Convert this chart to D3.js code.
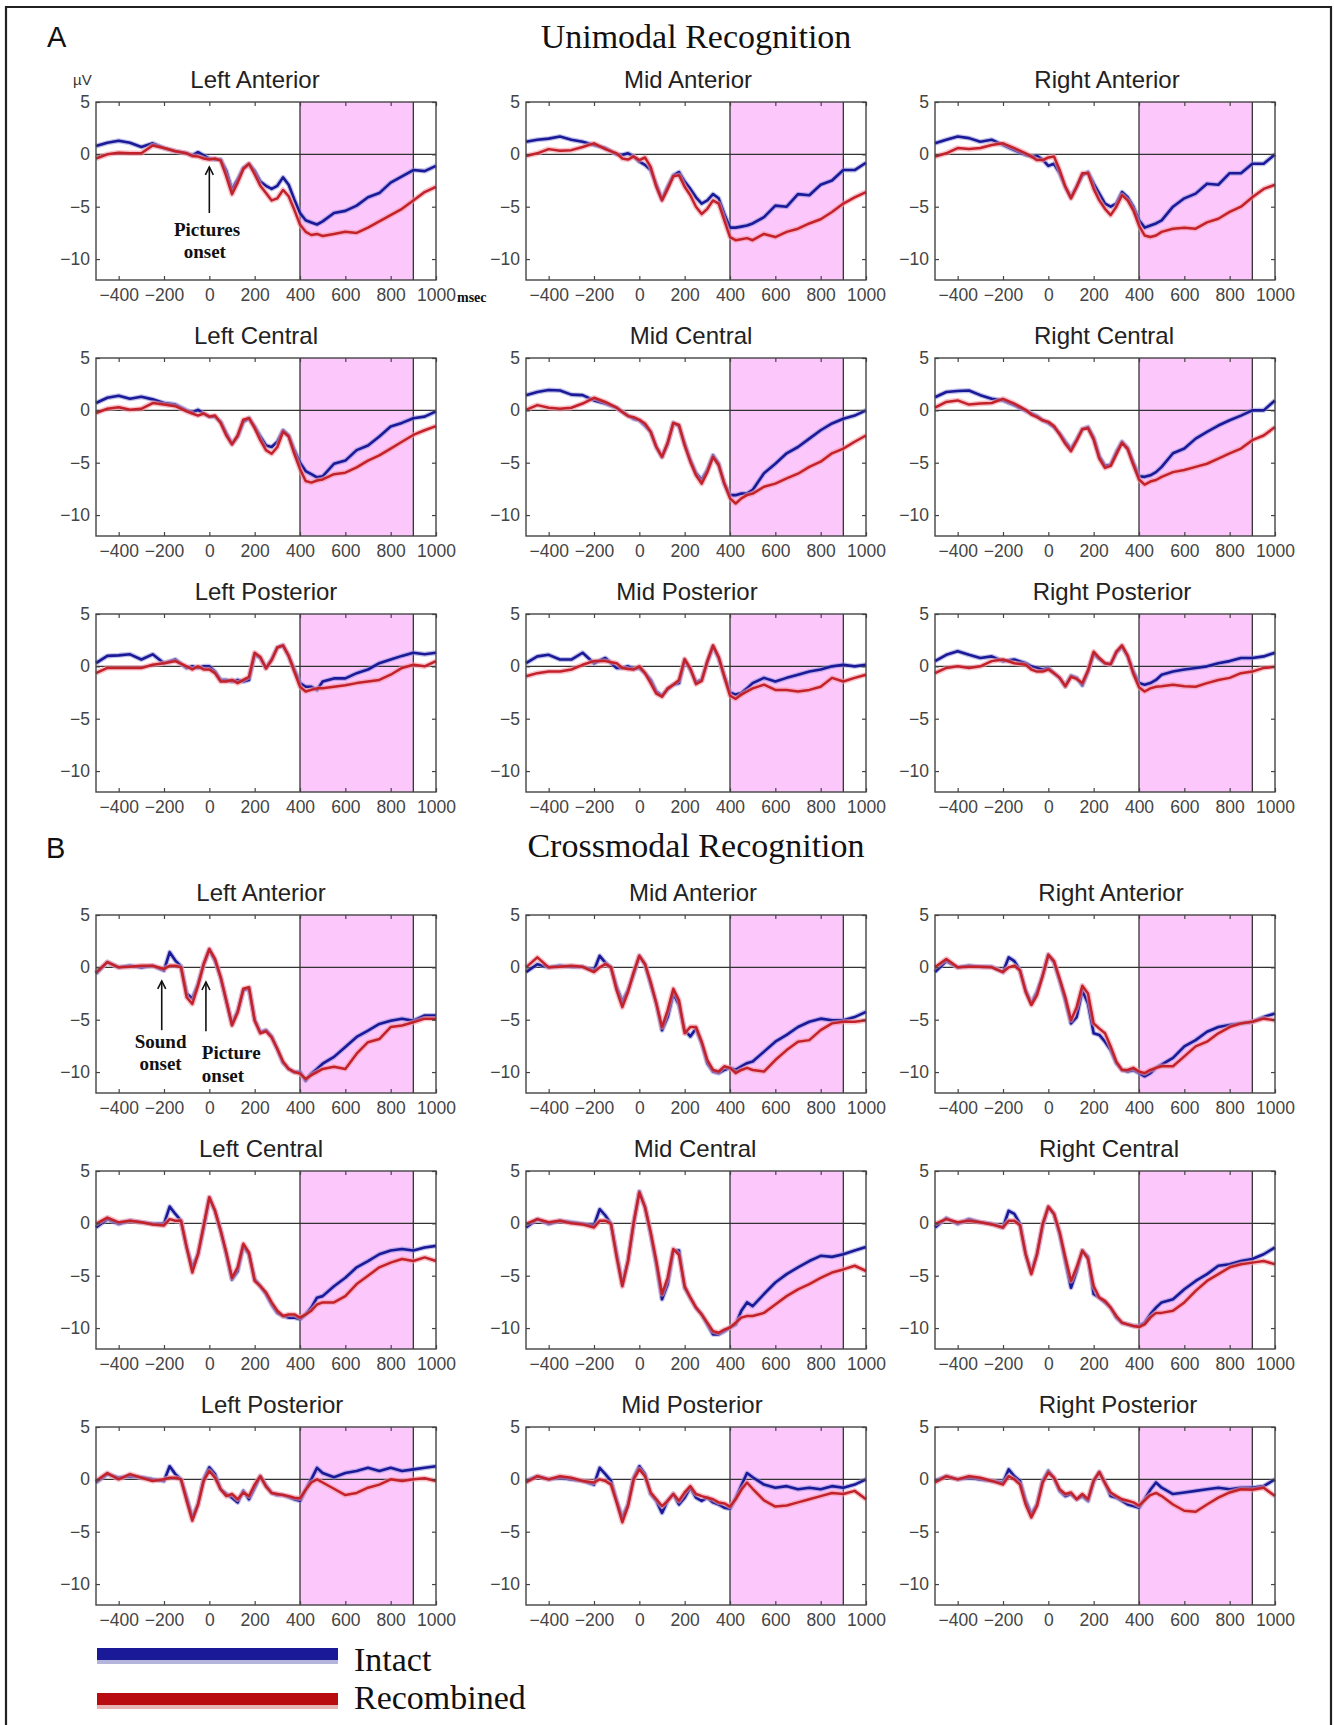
<!DOCTYPE html>
<html>
<head>
<meta charset="utf-8">
<title>Unimodal and Crossmodal Recognition ERPs</title>
<script src="https://cdn.jsdelivr.net/npm/d3@7"></script>
<style>
  body { margin: 0; background: #fff; }
  .tick text { font-family: "Liberation Sans Narrow", "Arial Narrow", "Liberation Sans", Arial, sans-serif; font-size: 17.5px; fill: #444; }
  .tick line { stroke: #444; stroke-width: 1.2; }
  .ptitle { font-family: "Liberation Sans", Arial, sans-serif; font-size: 24px; fill: #222; text-anchor: middle; }
  .serif { font-family: "Liberation Serif", "Times New Roman", serif; fill: #111; }
</style>
</head>
<body>
<svg id="chart"></svg>
<script>
var timesA = [-500,-450,-400,-350,-300,-250,-200,-150,-100,-75,-50,-25,0,25,50,75,100,125,150,175,200,225,250,275,300,325,350,375,400,425,450,475,500,550,600,650,700,750,800,850,900,950,1000];
var timesB = [-500,-450,-400,-350,-300,-250,-200,-175,-150,-125,-100,-75,-50,-25,0,25,50,75,100,125,150,175,200,225,250,275,300,325,350,375,400,425,450,475,500,550,600,650,700,750,800,850,900,950,1000];

var xTicks = [-400, -200, 0, 200, 400, 600, 800, 1000];
var yTicks = [5, 0, -5, -10];
var windowMs = [400, 900];

var regions = [['Left Anterior', 'Mid Anterior', 'Right Anterior'],
               ['Left Central', 'Mid Central', 'Right Central'],
               ['Left Posterior', 'Mid Posterior', 'Right Posterior']];

// A: unimodal recognition (µV)
var uniLAi = [0.8,1.1,1.3,1.1,0.7,1.05,0.6,0.3,0.1,-0.1,0.2,-0.1,-0.4,-0.5,-0.5,-1.6,-3.4,-2.4,-1.3,-0.9,-1.6,-2.6,-3.0,-3.3,-3.0,-2.2,-2.9,-4.3,-5.6,-6.3,-6.5,-6.7,-6.4,-5.6,-5.4,-4.9,-4.1,-3.7,-2.7,-2.1,-1.5,-1.6,-1.1];
var uniLAr = [-0.4,0.0,0.15,0.1,0.1,0.85,0.6,0.3,0.1,-0.15,-0.2,-0.4,-0.5,-0.4,-0.6,-2.1,-3.8,-2.7,-1.4,-0.9,-1.9,-3.0,-3.7,-4.4,-4.2,-3.4,-4.0,-5.3,-6.7,-7.4,-7.7,-7.6,-7.8,-7.6,-7.4,-7.5,-7.0,-6.4,-5.8,-5.2,-4.4,-3.6,-3.1];
var uniMAi = [1.2,1.4,1.5,1.7,1.4,1.2,0.9,0.6,0.0,-0.05,0.1,-0.2,-0.7,-1.0,-1.5,-2.9,-4.3,-3.1,-2.0,-1.7,-2.6,-3.3,-4.1,-4.7,-4.4,-3.8,-4.2,-5.7,-7.0,-7.0,-6.9,-6.8,-6.6,-6.0,-4.9,-5.0,-3.8,-3.9,-2.9,-2.5,-1.5,-1.5,-0.8];
var uniMAr = [-0.15,0.1,0.5,0.35,0.4,0.7,1.05,0.5,0.1,-0.4,-0.5,-0.2,-0.55,-0.3,-1.2,-3.1,-4.4,-3.3,-2.1,-2.0,-3.1,-3.9,-5.0,-5.7,-5.2,-4.4,-4.7,-6.3,-7.9,-8.2,-8.1,-8.0,-8.2,-7.6,-7.9,-7.4,-7.1,-6.6,-6.2,-5.5,-4.7,-4.1,-3.6];
var uniRAi = [1.05,1.4,1.7,1.55,1.2,1.4,0.9,0.4,-0.05,-0.2,-0.15,-0.5,-1.1,-0.9,-1.8,-3.1,-4.1,-3.1,-2.0,-1.7,-2.8,-3.75,-4.7,-5.0,-4.7,-3.6,-4.1,-5.0,-6.3,-7.0,-6.8,-6.6,-6.3,-5.0,-4.2,-3.75,-2.8,-2.9,-1.8,-1.8,-0.9,-0.9,0.0];
var uniRAr = [-0.2,0.1,0.6,0.5,0.6,0.9,1.05,0.6,0.1,-0.2,-0.55,-0.55,-0.3,-0.2,-1.5,-3.1,-4.2,-3.1,-1.8,-1.8,-3.3,-4.4,-5.2,-5.8,-5.0,-3.9,-4.4,-5.35,-6.8,-7.75,-7.9,-7.75,-7.4,-7.1,-7.0,-7.1,-6.5,-6.15,-5.5,-5.0,-4.1,-3.3,-2.9];
var uniLCi = [0.7,1.2,1.4,1.1,1.3,1.05,0.7,0.55,0.0,-0.2,0.05,-0.3,-0.6,-0.6,-1.1,-2.2,-3.2,-2.5,-1.1,-0.75,-1.55,-2.5,-3.35,-3.5,-3.0,-1.9,-2.4,-3.8,-5.0,-5.8,-6.1,-6.4,-6.3,-5.1,-4.8,-3.8,-3.35,-2.5,-1.55,-1.2,-0.75,-0.6,-0.1];
var uniLCr = [-0.25,0.15,0.3,0.05,0.15,0.7,0.55,0.4,-0.1,-0.3,-0.5,-0.3,-0.6,-0.5,-1.2,-2.4,-3.25,-2.4,-0.9,-0.75,-1.7,-2.85,-3.8,-4.15,-3.5,-2.05,-2.5,-4.15,-5.6,-6.75,-6.9,-6.7,-6.6,-6.1,-5.95,-5.45,-4.8,-4.3,-3.65,-3.0,-2.35,-1.9,-1.5];
var uniMCi = [1.45,1.75,1.95,1.9,1.5,1.45,0.95,0.65,0.25,-0.15,-0.5,-0.8,-0.95,-1.45,-2.05,-3.5,-4.45,-3.2,-1.2,-1.5,-3.2,-4.75,-6.0,-6.65,-5.7,-4.3,-5.1,-7.0,-8.1,-8.1,-7.95,-7.95,-7.6,-6.0,-5.1,-4.1,-3.5,-2.7,-1.9,-1.25,-0.8,-0.5,0.0];
var uniMCr = [0.05,0.5,0.25,0.15,0.25,0.65,1.2,0.8,0.25,-0.15,-0.55,-0.65,-0.9,-1.25,-2.05,-3.5,-4.45,-3.1,-1.2,-1.4,-3.35,-4.9,-6.2,-7.0,-5.9,-4.45,-5.25,-7.0,-8.4,-8.9,-8.4,-8.1,-7.95,-7.3,-7.0,-6.5,-6.05,-5.4,-4.9,-4.1,-3.65,-3.0,-2.4];
var uniRCi = [1.25,1.75,1.85,1.9,1.45,1.1,0.95,0.5,-0.05,-0.3,-0.55,-0.95,-1.2,-1.6,-2.2,-3.0,-3.7,-2.8,-1.8,-1.6,-2.6,-4.4,-5.3,-5.2,-4.0,-3.0,-3.6,-5.0,-6.3,-6.35,-6.2,-5.9,-5.4,-4.1,-3.65,-2.7,-2.05,-1.45,-0.95,-0.5,0.0,0.0,0.95];
var uniRCr = [0.25,0.8,0.95,0.55,0.65,0.7,1.1,0.65,0.05,-0.4,-0.65,-0.95,-1.1,-1.5,-2.3,-3.2,-3.9,-2.9,-1.8,-1.7,-2.8,-4.6,-5.5,-5.3,-4.2,-3.1,-3.7,-5.2,-6.6,-7.1,-6.8,-6.65,-6.35,-5.9,-5.7,-5.4,-5.1,-4.6,-4.1,-3.65,-2.85,-2.4,-1.6];
var uniLPi = [0.3,1.0,1.05,1.15,0.65,1.15,0.3,0.65,-0.15,0.0,-0.15,0.0,0.0,-0.5,-1.3,-1.3,-1.45,-1.3,-1.45,-1.3,1.15,0.8,-0.15,0.65,1.8,2.0,1.0,-0.3,-1.6,-1.95,-1.95,-2.25,-1.45,-1.15,-1.15,-0.65,-0.3,0.3,0.65,1.0,1.3,1.15,1.3];
var uniLPr = [-0.65,-0.15,-0.15,-0.15,-0.15,0.15,0.3,0.5,0.0,-0.3,0.0,-0.3,-0.3,-0.65,-1.45,-1.45,-1.3,-1.6,-1.3,-1.0,1.3,0.9,-0.2,0.6,1.8,2.0,1.0,-0.5,-1.95,-2.4,-2.25,-2.1,-2.1,-1.95,-1.8,-1.6,-1.45,-1.3,-0.8,-0.15,0.15,0.0,0.5];
var uniMPi = [0.3,0.95,1.1,0.65,0.65,1.3,0.3,0.8,-0.15,-0.15,0.0,-0.25,-0.15,-0.65,-1.3,-2.4,-2.8,-2.2,-1.75,-1.6,0.6,-0.3,-1.5,-1.3,0.4,1.9,0.8,-0.9,-2.5,-2.7,-2.55,-2.1,-1.6,-1.1,-1.45,-1.1,-0.8,-0.5,-0.3,0.0,0.15,0.0,0.15];
var uniMPr = [-0.95,-0.65,-0.5,-0.5,-0.3,0.15,0.5,0.5,0.3,-0.15,-0.25,-0.3,0.0,-0.65,-1.6,-2.6,-2.9,-2.1,-1.75,-1.3,0.7,-0.2,-1.7,-1.4,0.5,2.0,0.9,-1.0,-2.8,-3.1,-2.7,-2.4,-2.1,-1.75,-2.25,-2.25,-2.4,-2.25,-1.95,-1.1,-1.45,-1.1,-0.8];
var uniRPi = [0.5,1.1,1.45,1.1,0.8,0.95,0.5,0.65,0.3,0.0,-0.15,-0.3,-0.15,-0.65,-1.1,-1.9,-0.9,-1.1,-1.8,-0.5,1.2,0.7,0.3,0.2,1.3,1.9,1.0,-0.5,-1.6,-1.75,-1.6,-1.3,-0.8,-0.5,-0.3,-0.15,0.0,0.3,0.5,0.8,0.8,0.95,1.3];
var uniRPr = [-0.65,-0.15,0.0,-0.15,0.0,0.5,0.65,0.3,0.15,-0.3,-0.5,-0.5,-0.3,-0.65,-1.1,-1.9,-1.0,-1.2,-1.6,-0.4,1.4,0.8,0.3,0.2,1.4,2.0,1.0,-0.7,-2.0,-2.4,-2.1,-1.95,-1.9,-1.75,-1.9,-1.95,-1.6,-1.3,-1.1,-0.65,-0.5,-0.15,-0.05];

// B: crossmodal recognition (µV)
var crossLAi = [-0.6,0.5,0.0,0.15,0.0,0.15,-0.3,1.45,0.65,0.1,-2.5,-3.0,-1.6,0.3,1.7,0.65,-0.95,-3.2,-5.4,-4.2,-2.2,-2.0,-5.0,-6.2,-6.0,-6.6,-7.8,-9.1,-9.7,-10.0,-10.0,-10.8,-10.15,-9.7,-9.2,-8.55,-7.6,-6.65,-6.05,-5.4,-5.1,-4.9,-5.1,-4.6,-4.6];
var crossLAr = [-0.5,0.5,0.0,0.05,0.15,0.15,-0.15,0.15,0.15,0.0,-2.85,-3.5,-1.75,0.3,1.75,0.8,-0.95,-3.2,-5.55,-4.3,-2.05,-1.9,-5.1,-6.3,-6.1,-6.7,-7.8,-9.0,-9.7,-10.0,-10.15,-10.65,-10.3,-10.0,-9.7,-9.5,-9.7,-8.25,-7.15,-6.85,-5.7,-5.55,-5.25,-4.9,-4.9];
var crossMAi = [-0.45,0.3,0.0,0.15,0.05,0.05,-0.3,1.1,0.45,0.0,-1.9,-3.3,-2.2,-0.65,1.1,0.3,-1.6,-3.45,-6.0,-4.75,-2.5,-3.6,-6.0,-6.6,-5.85,-7.25,-9.15,-9.95,-10.1,-9.8,-9.6,-9.8,-9.45,-9.15,-9.0,-8.05,-7.1,-6.45,-5.7,-5.2,-4.9,-5.05,-5.05,-4.75,-4.25];
var crossMAr = [0.0,0.95,0.0,0.05,0.15,0.05,-0.45,0.0,0.3,0.0,-2.2,-3.8,-2.35,-0.45,1.1,0.3,-1.4,-3.45,-5.7,-4.1,-2.05,-3.15,-6.3,-5.7,-5.7,-7.1,-8.85,-9.8,-9.95,-9.45,-9.6,-10.1,-9.8,-9.6,-9.8,-9.95,-8.85,-7.9,-7.1,-6.95,-6.0,-5.35,-5.2,-5.2,-5.05];
var crossRAi = [-0.45,0.6,0.0,0.15,0.05,0.05,-0.45,0.95,0.6,-0.3,-2.2,-3.45,-2.35,-0.8,1.2,0.5,-1.25,-3.15,-5.35,-4.75,-2.2,-3.45,-6.3,-6.45,-7.1,-7.9,-9.15,-9.8,-9.95,-9.8,-10.1,-10.4,-10.1,-9.6,-9.3,-8.65,-7.55,-6.95,-6.15,-5.7,-5.5,-5.35,-5.2,-4.75,-4.4];
var crossRAr = [0.0,0.8,0.0,0.05,0.05,0.0,-0.45,0.0,0.15,-0.3,-2.35,-3.6,-2.65,-0.8,1.2,0.6,-1.1,-2.85,-5.05,-3.8,-1.75,-2.5,-5.35,-5.85,-6.3,-7.55,-9.0,-9.8,-9.8,-9.6,-9.95,-10.1,-9.8,-9.6,-9.45,-9.45,-8.5,-7.55,-7.1,-6.3,-5.7,-5.35,-5.2,-4.9,-5.05];
var crossLCi = [-0.4,0.4,-0.05,0.25,0.1,-0.05,-0.05,1.6,0.9,0.25,-2.3,-4.2,-2.95,-0.4,2.45,1.2,-0.7,-2.95,-5.35,-4.55,-2.15,-2.95,-5.35,-6.0,-6.75,-7.75,-8.55,-8.85,-9.0,-9.0,-9.15,-8.7,-8.05,-7.1,-6.95,-6.0,-5.2,-4.2,-3.6,-2.95,-2.6,-2.45,-2.6,-2.3,-2.15];
var crossLCr = [-0.05,0.55,0.1,0.25,0.1,-0.1,-0.2,0.4,0.25,0.25,-2.3,-4.7,-2.95,-0.2,2.5,1.2,-0.7,-2.8,-5.2,-4.2,-1.95,-2.8,-5.5,-6.0,-6.6,-7.55,-8.35,-8.85,-8.7,-8.7,-9.0,-8.7,-8.35,-7.75,-7.55,-7.55,-6.95,-5.8,-5.0,-4.2,-3.75,-3.4,-3.6,-3.25,-3.6];
var crossMCi = [-0.4,0.4,-0.05,0.25,0.1,-0.05,-0.2,1.35,0.75,-0.05,-2.95,-5.8,-3.6,-0.05,3.05,1.55,-1.0,-3.9,-7.25,-5.8,-2.6,-2.6,-6.15,-7.1,-8.05,-8.7,-9.65,-10.6,-10.6,-10.3,-9.95,-9.65,-8.35,-7.55,-7.9,-6.75,-5.65,-4.85,-4.2,-3.6,-3.1,-3.2,-2.95,-2.6,-2.25];
var crossMCr = [-0.05,0.4,0.1,0.25,0.0,-0.1,-0.4,0.25,0.25,-0.05,-3.25,-6.0,-3.6,0.1,2.95,1.55,-0.85,-3.6,-6.75,-5.2,-2.45,-3.0,-6.0,-7.1,-8.05,-8.7,-9.5,-10.3,-10.45,-10.15,-9.95,-9.5,-9.0,-8.85,-8.85,-8.55,-7.75,-6.95,-6.3,-5.8,-5.2,-4.7,-4.4,-4.05,-4.55];
var crossRCi = [-0.4,0.5,-0.05,0.4,0.1,-0.05,-0.4,1.2,0.9,-0.05,-2.95,-4.7,-2.95,-0.2,1.55,0.9,-1.0,-3.6,-6.15,-4.55,-2.6,-3.2,-6.75,-7.1,-7.55,-8.05,-9.0,-9.5,-9.65,-9.8,-9.8,-9.5,-8.7,-8.05,-7.55,-7.25,-6.3,-5.5,-4.85,-4.05,-3.9,-3.6,-3.4,-2.95,-2.3];
var crossRCr = [-0.05,0.4,0.1,0.25,0.1,-0.1,-0.4,0.25,0.25,-0.2,-2.95,-4.85,-2.95,-0.05,1.6,0.9,-0.85,-3.25,-5.5,-4.2,-2.6,-3.4,-6.0,-7.1,-7.4,-8.05,-8.85,-9.5,-9.65,-9.8,-9.9,-9.65,-9.0,-8.55,-8.55,-8.35,-7.55,-6.45,-5.5,-4.85,-4.2,-3.9,-3.75,-3.6,-3.9];
var crossLPi = [-0.3,0.5,0.15,0.3,0.2,0.0,-0.15,1.25,0.5,0.0,-1.75,-3.65,-2.4,0.0,1.15,0.5,-0.95,-1.4,-1.75,-2.2,-1.1,-1.9,-0.8,0.3,-0.6,-1.3,-1.5,-1.5,-1.7,-1.9,-2.05,-1.0,0.0,1.1,0.6,0.2,0.6,0.8,1.1,0.8,1.1,0.8,0.95,1.1,1.25];
var crossLPr = [-0.15,0.6,0.0,0.5,0.15,-0.15,0.0,0.15,0.15,0.0,-2.05,-3.95,-2.4,-0.15,0.8,0.15,-0.95,-1.6,-1.4,-1.9,-1.25,-1.6,-0.5,0.3,-0.7,-1.3,-1.4,-1.5,-1.6,-1.75,-1.8,-1.0,-0.3,0.0,-0.3,-0.9,-1.5,-1.3,-0.8,-0.5,0.0,-0.15,0.0,0.1,-0.15];
var crossMPi = [-0.15,0.3,0.0,0.15,0.0,-0.15,-0.5,1.1,0.5,-0.15,-2.05,-3.65,-2.4,0.15,1.25,0.5,-1.4,-2.05,-3.2,-2.05,-1.4,-2.4,-1.75,-0.8,-1.75,-2.05,-1.75,-2.2,-2.4,-2.7,-2.8,-1.8,-0.6,0.6,0.2,-0.5,-0.8,-0.65,-0.95,-0.8,-0.95,-0.65,-0.8,-0.5,0.0];
var crossMPr = [-0.3,0.3,0.0,0.3,0.15,-0.15,-0.3,0.0,-0.15,-0.5,-2.2,-4.1,-2.55,0.0,0.95,0.3,-1.25,-1.9,-2.55,-2.05,-1.4,-2.05,-1.25,-0.65,-1.4,-1.6,-1.75,-1.9,-2.2,-2.3,-2.6,-1.9,-1.0,-0.3,-0.9,-2.0,-2.6,-2.5,-2.2,-1.9,-1.6,-1.3,-1.4,-1.1,-1.9];
var crossRPi = [-0.15,0.3,0.0,0.15,0.0,-0.15,-0.3,0.95,0.3,-0.15,-2.05,-3.35,-2.4,-0.15,0.8,0.15,-1.1,-1.6,-1.4,-1.9,-1.6,-2.05,-0.2,0.7,-0.3,-1.6,-1.75,-2.05,-2.4,-2.55,-2.7,-1.9,-1.0,-0.3,-0.8,-1.4,-1.25,-1.1,-0.95,-0.8,-0.95,-0.8,-0.8,-0.65,0.0];
var crossRPr = [-0.3,0.3,0.0,0.3,0.15,-0.15,-0.5,0.3,0.0,-0.5,-2.4,-3.65,-2.55,-0.3,0.65,0.15,-0.95,-1.4,-1.25,-1.9,-1.4,-1.9,-0.1,0.7,-0.4,-1.25,-1.6,-1.9,-2.05,-2.2,-2.5,-2.0,-1.5,-1.3,-1.6,-2.4,-3.0,-3.1,-2.4,-1.75,-1.25,-0.95,-1.0,-0.8,-1.6];

var uniIntact = [[uniLAi, uniMAi, uniRAi], [uniLCi, uniMCi, uniRCi], [uniLPi, uniMPi, uniRPi]];
var uniRecomb = [[uniLAr, uniMAr, uniRAr], [uniLCr, uniMCr, uniRCr], [uniLPr, uniMPr, uniRPr]];
var crossIntact = [[crossLAi, crossMAi, crossRAi], [crossLCi, crossMCi, crossRCi], [crossLPi, crossMPi, crossRPi]];
var crossRecomb = [[crossLAr, crossMAr, crossRAr], [crossLCr, crossMCr, crossRCr], [crossLPr, crossMPr, crossRPr]];

// layout
var width = 1334, height = 1725;
var pw = 340, ph = 178;
var colX = [96, 526, 935];
var rowYA = [102, 358, 614], rowYB = [915, 1171, 1427];
var titleCxA = [[255, 688, 1107], [256, 691, 1104], [266, 687, 1112]];
var titleCxB = [[261, 693, 1111], [261, 695, 1109], [272, 692, 1118]];

var blue = '#1a1a98', red = '#c4222a';

var svg = d3.select('#chart')
  .attr('width', width)
  .attr('height', height);

svg.append('rect').attr('width', width).attr('height', height).attr('fill', '#fff');

// outer frame (no bottom edge)
svg.append('path')
  .attr('d', 'M6,' + height + 'V7H1331V' + height)
  .attr('fill', 'none')
  .attr('stroke', '#222')
  .attr('stroke-width', 2.2);

var x = d3.scaleLinear().domain([-500, 1000]).range([0, pw]);
var y = d3.scaleLinear().domain([-12, 5]).range([ph, 0]);

var fmt = d => d < 0 ? '\u2212' + Math.abs(d) : String(d);

function drawPanel(px, py, title, tcx, times, intact, recomb) {
  svg.append('text')
    .attr('class', 'ptitle')
    .attr('x', tcx)
    .attr('y', py - 14)
    .text(title);

  var g = svg.append('g').attr('transform', 'translate(' + px + ',' + py + ')');

  g.append('rect')
    .attr('x', x(windowMs[0]))
    .attr('y', 0)
    .attr('width', x(windowMs[1]) - x(windowMs[0]))
    .attr('height', ph)
    .attr('fill', '#fcc8fc');

  g.selectAll('.win')
    .data(windowMs)
    .enter()
    .append('line')
    .attr('x1', d => x(d)).attr('x2', d => x(d))
    .attr('y1', 0).attr('y2', ph)
    .attr('stroke', '#333')
    .attr('stroke-width', 1.3);

  g.append('line')
    .attr('x1', 0).attr('x2', pw)
    .attr('y1', y(0)).attr('y2', y(0))
    .attr('stroke', '#333')
    .attr('stroke-width', 1.3);

  var line = d3.line()
    .x((d, i) => x(times[i]))
    .y(d => y(d));

  // soft halo under each trace, then the trace
  g.append('path').attr('d', line(intact)).attr('fill', 'none')
    .attr('stroke', '#8c8cd6').attr('stroke-opacity', 0.55).attr('stroke-width', 5).attr('stroke-linejoin', 'round');
  g.append('path').attr('d', line(intact)).attr('fill', 'none')
    .attr('stroke', blue).attr('stroke-width', 2.6).attr('stroke-linejoin', 'round');
  g.append('path').attr('d', line(recomb)).attr('fill', 'none')
    .attr('stroke', '#f29aa6').attr('stroke-opacity', 0.6).attr('stroke-width', 5.4).attr('stroke-linejoin', 'round');
  g.append('path').attr('d', line(recomb)).attr('fill', 'none')
    .attr('stroke', red).attr('stroke-width', 2.5).attr('stroke-linejoin', 'round');

  // MATLAB style box with inward ticks
  g.append('g')
    .attr('transform', 'translate(0,' + ph + ')')
    .call(d3.axisBottom(x).tickValues(xTicks).tickFormat(fmt).tickSizeInner(-4).tickSizeOuter(0).tickPadding(9))
    .call(a => a.select('.domain').remove());
  g.append('g')
    .call(d3.axisTop(x).tickValues(xTicks).tickFormat('').tickSizeInner(-4).tickSizeOuter(0))
    .call(a => a.select('.domain').remove());
  g.append('g')
    .call(d3.axisLeft(y).tickValues(yTicks).tickFormat(fmt).tickSizeInner(-4).tickSizeOuter(0).tickPadding(6))
    .call(a => a.select('.domain').remove());
  g.append('g')
    .attr('transform', 'translate(' + pw + ',0)')
    .call(d3.axisRight(y).tickValues(yTicks).tickFormat('').tickSizeInner(-4).tickSizeOuter(0))
    .call(a => a.select('.domain').remove());

  g.append('rect')
    .attr('width', pw).attr('height', ph)
    .attr('fill', 'none')
    .attr('stroke', '#444')
    .attr('stroke-width', 1.4);

  return g;
}

function arrow(g, t, tip, tail) {
  var xx = x(t), y1 = y(tip), y2 = y(tail);
  g.append('line')
    .attr('x1', xx).attr('x2', xx).attr('y1', y2).attr('y2', y1)
    .attr('stroke', '#111').attr('stroke-width', 1.6);
  g.append('path')
    .attr('d', 'M' + (xx - 4) + ',' + (y1 + 8) + 'L' + xx + ',' + y1 + 'L' + (xx + 4) + ',' + (y1 + 8))
    .attr('fill', 'none').attr('stroke', '#111').attr('stroke-width', 1.6);
}

var panelsA = [], panelsB = [];
for (var r = 0; r < 3; r++) {
  for (var c = 0; c < 3; c++) {
    panelsA.push(drawPanel(colX[c], rowYA[r], regions[r][c], titleCxA[r][c], timesA, uniIntact[r][c], uniRecomb[r][c]));
    panelsB.push(drawPanel(colX[c], rowYB[r], regions[r][c], titleCxB[r][c], timesB, crossIntact[r][c], crossRecomb[r][c]));
  }
}

// section headings
svg.append('text').attr('x', 47).attr('y', 47)
  .style('font-family', '"Liberation Sans", Arial, sans-serif').style('font-size', '29px').attr('fill', '#111').text('A');
svg.append('text').attr('x', 46).attr('y', 858)
  .style('font-family', '"Liberation Sans", Arial, sans-serif').style('font-size', '29px').attr('fill', '#111').text('B');
svg.append('text').attr('class', 'serif').attr('x', 696).attr('y', 48)
  .attr('text-anchor', 'middle').style('font-size', '34px').text('Unimodal Recognition');
svg.append('text').attr('class', 'serif').attr('x', 696).attr('y', 857)
  .attr('text-anchor', 'middle').style('font-size', '34px').text('Crossmodal Recognition');

// units on the first panel
svg.append('text').attr('x', 73).attr('y', 85)
  .style('font-family', '"Liberation Sans", Arial, sans-serif').style('font-size', '15px').attr('fill', '#333').text('µV');
svg.append('text').attr('class', 'serif').attr('x', 457).attr('y', 302)
  .style('font-size', '14px').style('font-weight', 'bold').text('msec');

// onset annotations
var gA = panelsA[0];
arrow(gA, 0, -1.2, -5.6);
gA.append('text').attr('class', 'serif').attr('x', x(-10)).attr('y', 134).attr('text-anchor', 'middle')
  .style('font-size', '19px').style('font-weight', 'bold').text('Pictures');
gA.append('text').attr('class', 'serif').attr('x', x(-20)).attr('y', 156).attr('text-anchor', 'middle')
  .style('font-size', '19px').style('font-weight', 'bold').text('onset');

var gB = panelsB[0];
arrow(gB, -210, -1.3, -6.0);
arrow(gB, -15, -1.4, -6.1);
gB.append('text').attr('class', 'serif').attr('x', x(-215)).attr('y', 133).attr('text-anchor', 'middle')
  .style('font-size', '19px').style('font-weight', 'bold').text('Sound');
gB.append('text').attr('class', 'serif').attr('x', x(-215)).attr('y', 155).attr('text-anchor', 'middle')
  .style('font-size', '19px').style('font-weight', 'bold').text('onset');
gB.append('text').attr('class', 'serif').attr('x', x(-33)).attr('y', 144)
  .style('font-size', '19px').style('font-weight', 'bold').text('Picture');
gB.append('text').attr('class', 'serif').attr('x', x(-33)).attr('y', 167)
  .style('font-size', '19px').style('font-weight', 'bold').text('onset');

// legend
var legend = [['Intact', blue, '#b4b4dc'], ['Recombined', '#b80c10', '#e6b4b4']];
var lg = svg.selectAll('.leg').data(legend).enter().append('g')
  .attr('transform', (d, i) => 'translate(97,' + (1648 + i * 45) + ')');
lg.append('rect').attr('y', 8).attr('width', 241).attr('height', 8).attr('fill', d => d[2]);
lg.append('rect').attr('width', 241).attr('height', 12).attr('fill', d => d[1]);
lg.append('text').attr('class', 'serif').attr('x', 257).attr('y', (d, i) => i === 0 ? 23 : 16)
  .style('font-size', '34px').text(d => d[0]);
</script>
</body>
</html>
